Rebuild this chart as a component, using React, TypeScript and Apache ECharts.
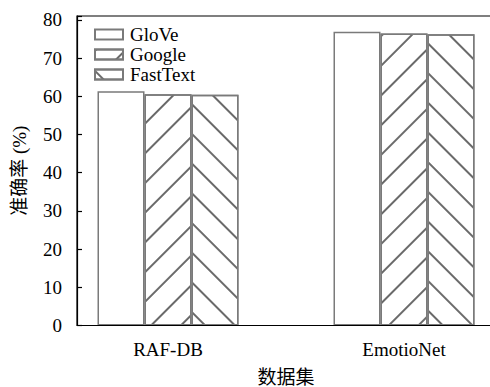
import React, { useEffect, useRef } from "react";
import * as echarts from "echarts";

const categories = ["RAF-DB", "EmotioNet"];
const seriesNames = ["GloVe", "Google", "FastText"];
const gloveValues = [61.3, 76.9];
const googleValues = [60.5, 76.4];
const fastTextValues = [60.4, 76.2];
const yTicks = [0, 10, 20, 30, 40, 50, 60, 70, 80];

const FONT = "Liberation Serif, Noto Sans CJK SC, serif";
const EDGE = "#7a7a7a";
const HATCH = "#6a6a6a";

function hatch(angle: number) {
  return {
    symbol: "rect",
    symbolSize: 1,
    color: HATCH,
    backgroundColor: null,
    dashArrayX: [1, 0],
    dashArrayY: [1.4, 18.6],
    rotation: angle,
  };
}

export default function App() {
  const ref = useRef<HTMLDivElement>(null);

  useEffect(() => {
    if (!ref.current) return;
    const chart = echarts.init(ref.current, undefined, { renderer: "svg" });
    const yMax = 81;
    const barStyle = (decal?: any) => ({
      color: "#ffffff",
      borderColor: EDGE,
      borderWidth: 1.5,
      ...(decal ? { decal } : {}),
    });
    chart.setOption({
      animation: false,
      backgroundColor: "#ffffff",
      textStyle: { fontFamily: FONT, color: "#000" },
      grid: [
        { left: 50, width: 472, top: 16, height: 309.5, outerBoundsMode: "none", containLabel: false },
        {
          left: 77,
          width: 417,
          top: 16,
          height: 309.5,
          outerBoundsMode: "none",
          containLabel: false,
          show: true,
          borderColor: "#000",
          borderWidth: 1.2,
          backgroundColor: "transparent",
          z: 5,
        },
      ],
      legend: {
        orient: "vertical",
        left: 89,
        top: 20,
        icon: "rect",
        itemWidth: 28,
        itemHeight: 10,
        itemGap: 1,
        padding: 5,
        data: seriesNames,
        textStyle: { fontFamily: FONT, fontSize: 19, color: "#000", padding: [0, 0, 0, 2] },
      },
      xAxis: [
        {
          type: "category",
          gridIndex: 0,
          data: categories,
          axisLine: { show: false },
          axisTick: {
            show: true,
            inside: true,
            length: 5,
            alignWithLabel: true,
            lineStyle: { color: "#000", width: 1.2 },
          },
          axisLabel: { fontFamily: FONT, fontSize: 19, color: "#000", margin: 14 },
          name: "数据集",
          nameLocation: "middle",
          nameGap: 42,
          nameTextStyle: { fontFamily: FONT, fontSize: 19, color: "#000" },
        },
        {
          type: "value",
          gridIndex: 1,
          min: 0,
          max: 1,
          show: false,
        },
      ],
      yAxis: [
        { type: "value", gridIndex: 0, min: 0, max: yMax, show: false },
        {
          type: "value",
          gridIndex: 1,
          min: 0,
          max: yMax,
          interval: 10,
          axisLine: { show: true, lineStyle: { color: "#000", width: 1.2 } },
          axisTick: { show: true, inside: true, length: 5, lineStyle: { color: "#000", width: 1.2 } },
          splitLine: { show: false },
          axisLabel: {
            fontFamily: FONT,
            fontSize: 19,
            color: "#000",
            margin: 15,
            formatter: (v: number) => (yTicks.includes(v) ? String(v) : ""),
          },
          name: "准确率 (%)",
          nameLocation: "middle",
          nameGap: 48,
          nameRotate: 90,
          nameTextStyle: { fontFamily: FONT, fontSize: 19, color: "#000" },
        },
      ],
      series: [
        {
          name: seriesNames[0],
          type: "bar",
          xAxisIndex: 0,
          yAxisIndex: 0,
          data: gloveValues,
          barWidth: 47,
          barGap: "0%",
          itemStyle: barStyle(),
        },
        {
          name: seriesNames[1],
          type: "bar",
          xAxisIndex: 0,
          yAxisIndex: 0,
          data: googleValues,
          barWidth: 47,
          barGap: "0%",
          itemStyle: barStyle(hatch(-Math.PI / 4)),
        },
        {
          name: seriesNames[2],
          type: "bar",
          xAxisIndex: 0,
          yAxisIndex: 0,
          data: fastTextValues,
          barWidth: 47,
          barGap: "0%",
          itemStyle: barStyle(hatch(Math.PI / 4)),
        },
      ],
    });
    return () => chart.dispose();
  }, []);

  return (
    <div
      ref={ref}
      style={{ position: "fixed", left: 0, top: 0, width: 490, height: 387 }}
    />
  );
}
